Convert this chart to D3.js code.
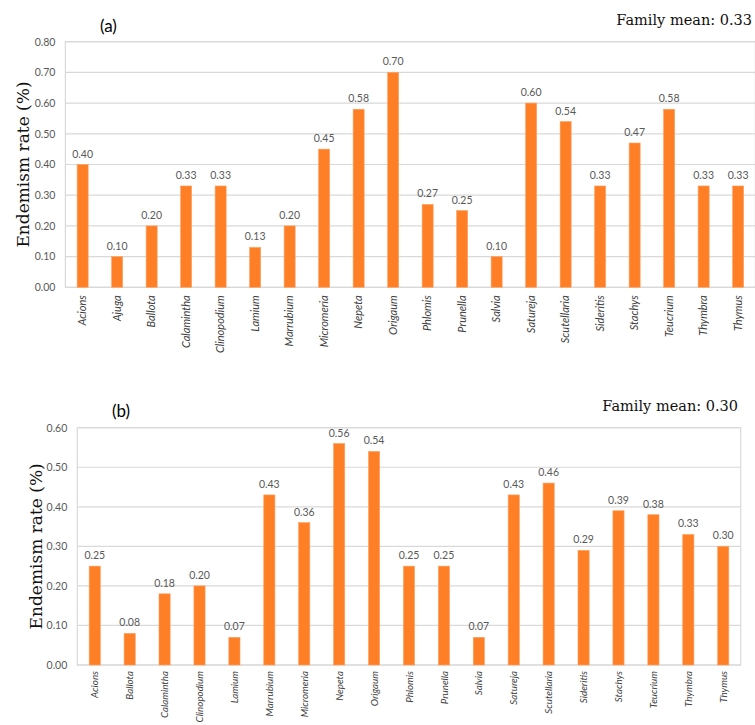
<!DOCTYPE html>
<html>
<head>
<meta charset="utf-8">
<script src="https://cdn.jsdelivr.net/npm/d3@7"></script>
<style>
  body { margin: 0; background: #fff; }
  svg { display: block; }
</style>
</head>
<body>
<div id="chart"></div>
<script>
// Panel (a) data
var generaA = ["Acions", "Ajuga", "Ballota", "Calamintha", "Clinopodium", "Lamium", "Marrubium",
               "Micromeria", "Nepeta", "Origaum", "Phlomis", "Prunella", "Salvia", "Satureja",
               "Scutellaria", "Sideritis", "Stachys", "Teucrium", "Thymbra", "Thymus"];
var ratesA = [0.40, 0.10, 0.20, 0.33, 0.33, 0.13, 0.20, 0.45, 0.58, 0.70,
              0.27, 0.25, 0.10, 0.60, 0.54, 0.33, 0.47, 0.58, 0.33, 0.33];
var ticksA = [0, 0.1, 0.2, 0.3, 0.4, 0.5, 0.6, 0.7, 0.8];
var meanA = "Family mean: 0.33";

// Panel (b) data
var generaB = ["Acions", "Ballota", "Calamintha", "Clinopodium", "Lamium", "Marrubium",
               "Micromeria", "Nepeta", "Origaum", "Phlomis", "Prunella", "Salvia", "Satureja",
               "Scutellaria", "Sideritis", "Stachys", "Teucrium", "Thymbra", "Thymus"];
var ratesB = [0.25, 0.08, 0.18, 0.20, 0.07, 0.43, 0.36, 0.56, 0.54,
              0.25, 0.25, 0.07, 0.43, 0.46, 0.29, 0.39, 0.38, 0.33, 0.30];
var ticksB = [0, 0.1, 0.2, 0.3, 0.4, 0.5, 0.6];
var meanB = "Family mean: 0.30";

var width = 755, height = 725;

var svg = d3.select("#chart")
            .append("svg")
            .attr("width", width)
            .attr("height", height);

// Draw one Excel-style bar panel
function drawPanel(opt) {
  var data = opt.names.map(function(n, i){ return {name: n, value: opt.values[i]}; });

  var x = d3.scaleBand()
            .domain(opt.names)
            .range([opt.left, opt.right])
            .paddingInner(0.68)
            .paddingOuter(0.34);

  var y = d3.scaleLinear()
            .domain([0, d3.max(opt.ticks)])
            .range([opt.bottom, opt.top]);

  var g = svg.append("g");

  // gridlines
  g.selectAll("line.grid")
   .data(opt.ticks)
   .enter()
   .append("line")
   .attr("x1", opt.left)
   .attr("x2", opt.right)
   .attr("y1", function(d){ return y(d); })
   .attr("y2", function(d){ return y(d); })
   .style("stroke", "#d9d9d9")
   .style("stroke-width", 1.2);

  // plot border
  g.append("rect")
   .attr("x", opt.left)
   .attr("y", opt.top)
   .attr("width", opt.right - opt.left)
   .attr("height", opt.bottom - opt.top)
   .style("fill", "none")
   .style("stroke", "#d9d9d9")
   .style("stroke-width", 1.2);

  // y axis tick labels
  var yAxis = d3.axisLeft(y)
                .tickValues(opt.ticks)
                .tickFormat(d3.format(".2f"))
                .tickSize(0)
                .tickPadding(10);
  var ya = g.append("g")
            .attr("transform", "translate(" + opt.left + ",0)")
            .call(yAxis);
  ya.select(".domain").remove();
  ya.selectAll("text")
    .style("font-family", "Lato, 'Open Sans', sans-serif")
    .style("font-size", "10.5px")
    .style("fill", "#595959");

  // bars
  g.selectAll("rect.bar")
   .data(data)
   .enter()
   .append("rect")
   .attr("class", "bar")
   .attr("x", function(d){ return x(d.name); })
   .attr("y", function(d){ return y(d.value); })
   .attr("width", x.bandwidth())
   .attr("height", function(d){ return opt.bottom - y(d.value); })
   .style("fill", "#ff7f27")
   .style("stroke", "#ffa060")
   .style("stroke-width", 0.6);

  // value labels
  g.selectAll("text.val")
   .data(data)
   .enter()
   .append("text")
   .attr("x", function(d){ return x(d.name) + x.bandwidth() / 2; })
   .attr("y", function(d){ return y(d.value) - 7; })
   .attr("text-anchor", "middle")
   .style("font-family", "Lato, 'Open Sans', sans-serif")
   .style("font-size", "10.5px")
   .style("fill", "#595959")
   .text(function(d){ return d3.format(".2f")(d.value); });

  // category labels, rotated
  g.selectAll("text.cat")
   .data(data)
   .enter()
   .append("text")
   .attr("transform", function(d){
     return "translate(" + (x(d.name) + x.bandwidth() / 2 + 3.6) + "," + (opt.bottom + opt.catGap) + ") rotate(-90)";
   })
   .attr("text-anchor", "end")
   .style("font-family", "Lato, 'Open Sans', sans-serif")
   .style("font-style", "italic")
   .style("font-size", opt.catSize)
   .style("fill", "#404040")
   .text(function(d){ return d.name; });

  // panel tag
  g.append("text")
   .attr("x", opt.tagX)
   .attr("y", opt.tagY)
   .style("font-family", "Lato, 'Open Sans', sans-serif")
   .style("font-size", "17px")
   .style("fill", "#000")
   .text(opt.tag);

  // family mean
  g.append("text")
   .attr("x", opt.meanX)
   .attr("y", opt.meanY)
   .attr("text-anchor", "end")
   .style("font-family", "'DejaVu Serif', serif")
   .style("font-size", "14.5px")
   .style("fill", "#111")
   .text(opt.mean);

  // y axis title
  g.append("text")
   .attr("transform", "translate(" + opt.titleX + "," + ((opt.top + opt.bottom) / 2) + ") rotate(-90)")
   .attr("text-anchor", "middle")
   .style("font-family", "'DejaVu Serif', serif")
   .style("font-size", "17px")
   .style("fill", "#111")
   .text("Endemism rate (%)");
}

drawPanel({
  names: generaA, values: ratesA, ticks: ticksA, mean: meanA, tag: "(a)",
  left: 65.4, right: 755.4, top: 41.7, bottom: 287.3, catGap: 8, catSize: "11px",
  tagX: 100, tagY: 32, meanX: 752, meanY: 25, titleX: 29
});

drawPanel({
  names: generaB, values: ratesB, ticks: ticksB, mean: meanB, tag: "(b)",
  left: 77.3, right: 740.7, top: 427.7, bottom: 665, catGap: 6, catSize: "9.8px",
  tagX: 112, tagY: 417, meanX: 738, meanY: 411, titleX: 42
});
</script>
</body>
</html>
